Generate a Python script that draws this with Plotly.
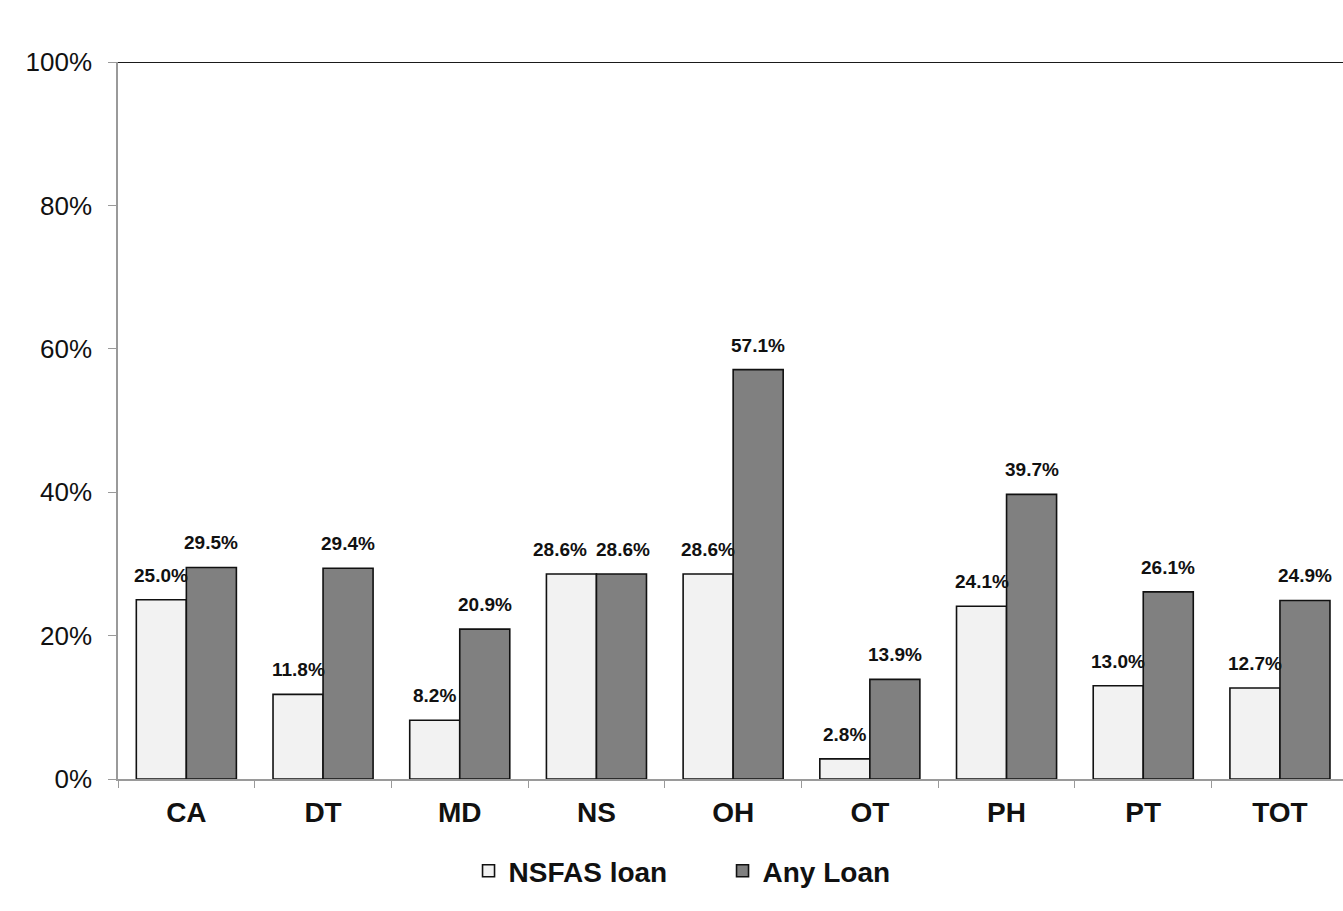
import plotly.graph_objects as go

# Share of students with loans, by group
categories = ["CA", "DT", "MD", "NS", "OH", "OT", "PH", "PT", "TOT"]
nsfas_loan = [25.0, 11.8, 8.2, 28.6, 28.6, 2.8, 24.1, 13.0, 12.7]
any_loan = [29.5, 29.4, 20.9, 28.6, 57.1, 13.9, 39.7, 26.1, 24.9]
series_names = ["NSFAS loan", "Any Loan"]
y_ticks = [0, 20, 40, 60, 80, 100]

W, H = 1343, 911
LEFT, TOP, BOTTOM = 118, 62, 132
cat_px = 136.7  # width of one category slot
x_end = (W - LEFT) / cat_px - 0.5
px_per_pct = (H - TOP - BOTTOM) / 100.0

FONT = "Liberation Sans, Arial, sans-serif"
fills = ["#f2f2f2", "#808080"]

fig = go.Figure()
for name, vals, fill in zip(series_names, [nsfas_loan, any_loan], fills):
    fig.add_trace(go.Bar(
        name=name, x=categories, y=vals,
        marker=dict(color=fill, line=dict(color="#111111", width=1.6)),
    ))

# value labels above each bar; pull paired labels apart when they sit level
for c, a, b in zip(categories, nsfas_loan, any_loan):
    level = abs(a - b) * px_per_pct < 20
    for v, dx in ((a, -25 - (11 if level else 0)), (b, 25 + (2 if level else 0))):
        fig.add_annotation(
            x=c, y=v, text=f"<b>{v:.1f}%</b>", showarrow=False,
            xshift=dx, yshift=12, yanchor="bottom",
            font=dict(family=FONT, size=19, color="#111111"),
        )

# dark rule across the top of the plot area
fig.add_shape(type="line", xref="paper", yref="y", x0=0, x1=1, y0=100, y1=100,
              line=dict(color="#1a1a1a", width=2.2))

fig.update_layout(
    width=W, height=H,
    margin=dict(l=LEFT, r=0, t=TOP, b=BOTTOM),
    paper_bgcolor="white", plot_bgcolor="white",
    barmode="group", bargap=0.268, bargroupgap=0,
    showlegend=True,
    legend=dict(
        orientation="h", xref="container", yref="container",
        x=0.538, xanchor="center", y=1 - 871 / H, yanchor="middle",
        font=dict(family=FONT, size=28, color="#111111", weight="bold"),
        entrywidth=209, entrywidthmode="pixels",
        traceorder="normal",
    ),
    xaxis=dict(
        range=[-0.5, x_end], showgrid=False,
        showline=True, linecolor="#9a9a9a", linewidth=1.5,
        ticks="outside", tickson="boundaries", ticklen=7, tickcolor="#9a9a9a",
        tickfont=dict(family=FONT, size=28, color="#111111", weight="bold"),
        ticklabelstandoff=8,
        tickvals=categories, ticktext=categories,
    ),
    yaxis=dict(
        range=[0, 100], showgrid=False, zeroline=False,
        showline=True, linecolor="#9a9a9a", linewidth=1.5,
        ticks="outside", ticklen=8, tickcolor="#9a9a9a",
        tickvals=y_ticks, ticktext=[f"{t}%" for t in y_ticks],
        tickfont=dict(family=FONT, size=26, color="#111111"),
        ticklabelstandoff=11,
    ),
)

fig.write_html("out.html")
